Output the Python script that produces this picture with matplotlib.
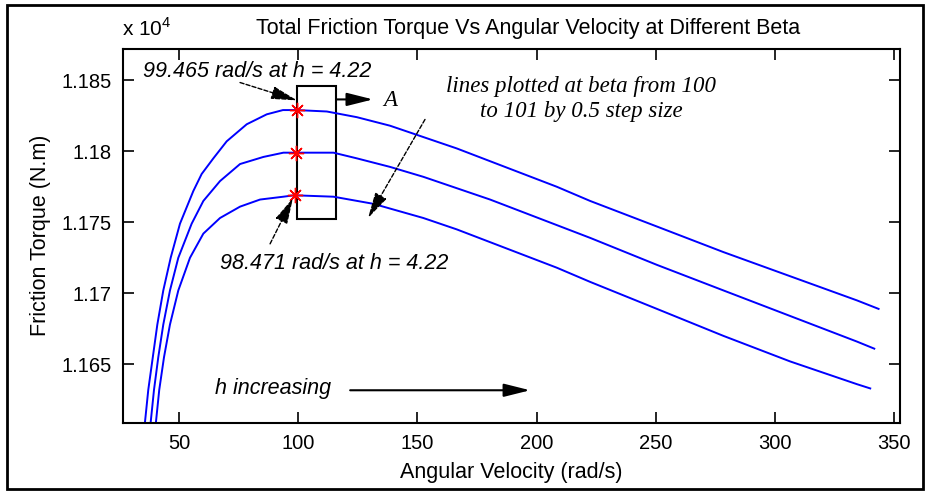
import matplotlib

matplotlib.use("Agg")
import matplotlib.pyplot as plt
from matplotlib.patches import Rectangle
from matplotlib.ticker import FixedLocator, FuncFormatter

plt.rcParams["font.family"] = ["Liberation Sans", "DejaVu Sans"]
plt.rcParams["mathtext.fontset"] = "custom"
plt.rcParams["mathtext.rm"] = "Liberation Sans"

# 読み取り値: 角速度 (rad/s) と摩擦トルク (N.m)、beta ごとに 1 本
omega_top = [35.7, 37.1, 39.0, 40.9, 43.4, 46.5, 50.4, 56.0, 59.5, 64.4, 70.0,
             78.4, 86.8, 93.6, 99.4, 112.0, 124.6, 138.5, 152.5, 166.5, 180.5,
             194.5, 208.5, 222.5, 250.5, 278.4, 306.4, 334.4, 343.5]
torque_top = [11609, 11632, 11655, 11678, 11702, 11725, 11749, 11772, 11784,
              11795, 11807, 11819, 11826, 11829, 11829, 11828, 11824, 11818,
              11810, 11802, 11793, 11784, 11775, 11765, 11747, 11729, 11712,
              11695, 11689]

omega_mid = [38.1, 39.5, 41.3, 43.4, 46.2, 49.7, 55.3, 60.2, 67.2, 75.6, 85.4,
             93.8, 98.4, 114.8, 124.6, 138.5, 152.5, 166.5, 180.5, 194.5,
             208.5, 222.5, 250.5, 278.4, 306.4, 334.4, 341.7]
torque_mid = [11609, 11632, 11655, 11678, 11702, 11725, 11749, 11765, 11779,
              11791, 11796, 11799, 11799, 11799, 11795, 11789, 11782, 11774,
              11766, 11757, 11748, 11739, 11720, 11702, 11684, 11666, 11661]

omega_bot = [40.3, 41.7, 43.7, 46.2, 49.7, 54.6, 60.2, 67.2, 75.6, 84.0, 93.8,
             98.3, 114.8, 131.5, 152.5, 166.5, 180.5, 194.5, 208.5, 222.5,
             250.5, 278.4, 306.4, 334.4, 340.0]
torque_bot = [11609, 11632, 11655, 11678, 11702, 11725, 11742, 11753, 11761,
              11766, 11768, 11769, 11768, 11763, 11753, 11745, 11736, 11727,
              11718, 11708, 11689, 11670, 11652, 11636, 11633]

peak_omega = [99.465, 98.97, 98.471]
peak_torque = [11829, 11799, 11769]

x_ticks = [50, 100, 150, 200, 250, 300, 350]
y_ticks = [11650, 11700, 11750, 11800, 11850]

fig = plt.figure(figsize=(9.27, 4.93), dpi=100)
ax = fig.add_axes([0.1327, 0.143, 0.8382, 0.7576])

for om, tq in [(omega_top, torque_top), (omega_mid, torque_mid),
               (omega_bot, torque_bot)]:
    ax.plot(om, tq, color="#0000ff", lw=1.4)
ax.plot(peak_omega, peak_torque, ls="none", marker=(8, 2, 0), ms=11,
        mec="red", mew=1.0)

ax.set_xlim(26.5, 352.5)
ax.set_ylim(11609, 11872)
ax.xaxis.set_major_locator(FixedLocator(x_ticks))
ax.yaxis.set_major_locator(FixedLocator(y_ticks))
ax.yaxis.set_major_formatter(FuncFormatter(lambda v, _: f"{v / 1e4:g}"))
ax.tick_params(direction="in", length=8, width=1.2, labelsize=14.5,
               top=True, right=True, pad=8)
for sp in ax.spines.values():
    sp.set_linewidth(1.5)

ax.set_xlabel("Angular Velocity (rad/s)", fontsize=15.5, labelpad=7)
ax.set_ylabel("Friction Torque (N.m)", fontsize=15.5, labelpad=8)
fig.text(0.5696, 0.943, "Total Friction Torque Vs Angular Velocity at Different Beta",
         fontsize=15.5, ha="center", va="center")
fig.text(0.1316, 0.943, "x 10$^{4}$", fontsize=15, ha="left", va="center")

# 注釈
sans_it = dict(fontsize=15.5, style="italic", color="k")
serif_it = dict(fontsize=16.5, style="italic", family="Liberation Serif", color="k")
dashed = dict(arrowstyle="-|>,head_length=1.6,head_width=0.4", color="k",
              lw=1, linestyle=(0, (3, 1.5)), shrinkA=0, shrinkB=0,
              mutation_scale=10)
solid = dict(arrowstyle="-|>,head_length=1.6,head_width=0.4", color="k",
             lw=1.5, shrinkA=0, shrinkB=0, mutation_scale=10)

ax.text(34.9, 11856, "99.465 rad/s at h = 4.22", ha="left", va="center", **sans_it)
ax.annotate("", xy=(99.5, 11835.8), xytext=(75.6, 11848.4), arrowprops=dashed)
ax.add_patch(Rectangle((99.5, 11752), 16.4, 94, fill=False, ec="k", lw=1.5))
ax.annotate("", xy=(131.4, 11836.5), xytext=(116.2, 11836.5), arrowprops=solid)
ax.text(138.5, 11835.4, "A", ha="center", va="center", **serif_it)

ax.text(218.7, 11836.8, "lines plotted at beta from 100\nto 101 by 0.5 step size",
        ha="center", va="center", linespacing=1.2, **serif_it)
ax.annotate("", xy=(129.3, 11753), xytext=(153.2, 11822.4), arrowprops=dashed)

ax.text(67.2, 11720.8, "98.471 rad/s at h = 4.22", ha="left", va="center", **sans_it)
ax.annotate("", xy=(97.8, 11767), xytext=(88.2, 11734.8), arrowprops=dashed)

ax.text(65.1, 11633, "h increasing", ha="left", va="center", **sans_it)
ax.annotate("", xy=(197.3, 11631.7), xytext=(121.8, 11631.7), arrowprops=solid)

# 図全体の外枠
fig.patches.append(Rectangle((0.008, 0.008), 0.988, 0.982, fill=False, ec="k",
                             lw=2, transform=fig.transFigure, figure=fig))

fig.savefig("out.png", dpi=100)
